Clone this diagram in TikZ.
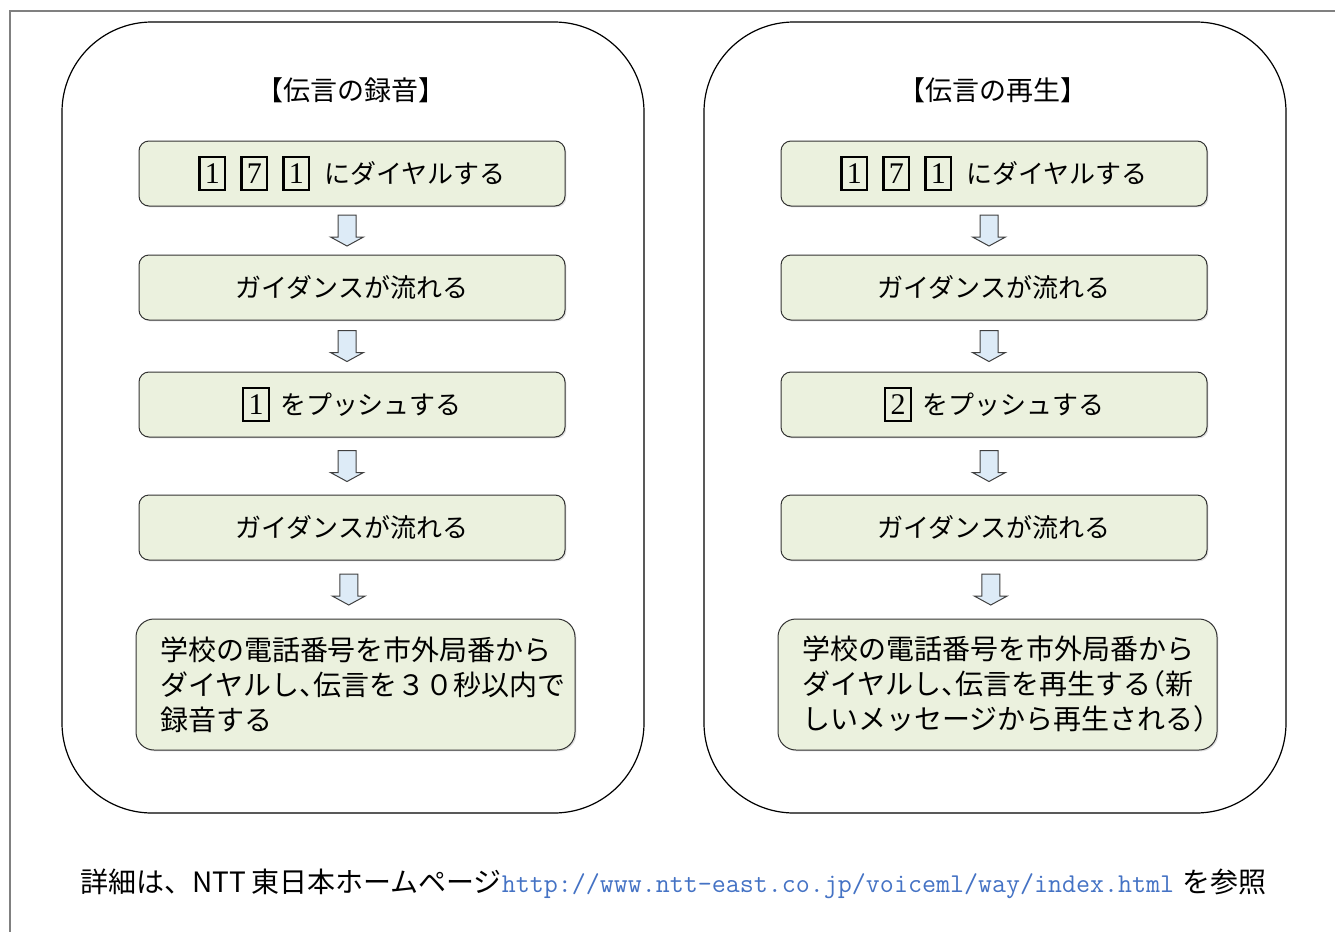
\documentclass[tikz,border=0pt]{standalone}
\usepackage{fontspec}
\newfontfamily\jp{Noto Sans CJK JP}
\newfontfamily\digitfont{Liberation Serif}
\usetikzlibrary{calc,shadows}
\definecolor{boxgreen}{RGB}{235,241,222}
\definecolor{arrowblue}{RGB}{221,235,247}
\definecolor{urlblue}{RGB}{68,114,196}
\definecolor{framegray}{RGB}{128,128,128}
\newcommand\keycap[1]{{\setlength\fboxsep{0pt}\setlength\fboxrule{1.1pt}\fbox{\makebox[11.8pt]{\rule[-2.9pt]{0pt}{15.3pt}\digitfont\fontsize{15pt}{15pt}\selectfont #1}}}}
\newcommand\halfl[1]{\makebox[0.5em][l]{#1}}
\newcommand\halfr[1]{\makebox[0.5em][r]{#1}}
\newcommand\flowarrow[2]{%
  \path ($(#1.south)!0.5!(#2.north)+(-5,-15.5)$) coordinate (at)
        ($(at)+(0,31)$) coordinate (atip)
        ($(at)+(0,22)$) coordinate (ahb);
  \draw[blockarrow] ($(at)+(-9,0)$) -- ($(at)+(9,0)$) -- ($(ahb)+(9,0)$) -- ($(ahb)+(16.5,0)$)
     -- (atip) -- ($(ahb)+(-16.5,0)$) -- ($(ahb)+(-9,0)$) -- cycle;
}
\begin{document}
\begin{tikzpicture}[x=0.5pt,y=-0.5pt,
  panel/.style={draw=black, line width=0.6pt, rounded corners=45pt, minimum width=291pt, minimum height=395.5pt, inner sep=0pt},
  stepbox/.style={draw=black!80, line width=0.5pt, fill=boxgreen, rounded corners=5pt, minimum width=213pt, minimum height=32.5pt, inner sep=0pt, font={\fontsize{13pt}{16pt}\jp}, drop shadow={shadow xshift=0.7pt, shadow yshift=-0.7pt, opacity=0.25}},
  finalbox/.style={stepbox, rounded corners=9pt, minimum width=219.5pt, minimum height=65.5pt, text width=195.5pt, inner xsep=12pt, align=left, font={\fontsize{14pt}{17.5pt}\jp}},
  titletext/.style={font={\fontsize{13.5pt}{16pt}\jp}},
  blockarrow/.style={draw=black!75, line width=0.5pt, fill=arrowblue, line join=miter},
]
\useasboundingbox (0,0) rectangle (1335,932);
\draw[framegray, line width=1pt] (10,932) -- (10,11) -- (1335,11);

% panels
\node[panel] (panelL) at (353,417.5) {};
\node[panel] (panelR) at (995,417.5) {};
\node[titletext] (titleL) at (351,90) {【伝言の録音】};
\node[titletext] (titleR) at (993,90) {【伝言の再生】};

% left column
\node[stepbox] (L1) at (352,173.5) {\keycap{1}\hspace{7pt}\keycap{7}\hspace{7pt}\keycap{1}\hspace{7pt}にダイヤルする};
\node[stepbox] (L2) at (352,287.5) {ガイダンスが流れる};
\node[stepbox] (L3) at (352,404.5) {\keycap{1}\hspace{5pt}をプッシュする};
\node[stepbox] (L4) at (352,527.5) {ガイダンスが流れる};
\node[finalbox] (L5) at (355.5,684.5) {学校の電話番号を市外局番から\\ダイヤルし\halfl{、}伝言を３０秒以内で\\録音する};

% right column
\node[stepbox] (R1) at (994,173.5) {\keycap{1}\hspace{7pt}\keycap{7}\hspace{7pt}\keycap{1}\hspace{7pt}にダイヤルする};
\node[stepbox] (R2) at (994,287.5) {ガイダンスが流れる};
\node[stepbox] (R3) at (994,404.5) {\keycap{2}\hspace{5pt}をプッシュする};
\node[stepbox] (R4) at (994,527.5) {ガイダンスが流れる};
\node[finalbox] (R5) at (997.5,684.5) {学校の電話番号を市外局番から\\ダイヤルし\halfl{、}伝言を再生する\halfr{（}新\\しいメッセージから再生される\halfl{）}};

% arrows
\flowarrow{L1}{L2}
\flowarrow{L2}{L3}
\flowarrow{L3}{L4}
\flowarrow{L4}{L5}
\flowarrow{R1}{R2}
\flowarrow{R2}{R3}
\flowarrow{R3}{R4}
\flowarrow{R4}{R5}

% footer
\node[anchor=west, inner sep=0pt, font={\fontsize{14pt}{17pt}\jp}] (note) at (80,884) {詳細は、NTT\hspace{2.5pt}東日本ホームページ{\color{urlblue}\fontsize{13.6pt}{17pt}\ttfamily http://www.ntt-east.co.jp/voiceml/way/index.html}\hspace{4pt}を参照};
\end{tikzpicture}
\end{document}
